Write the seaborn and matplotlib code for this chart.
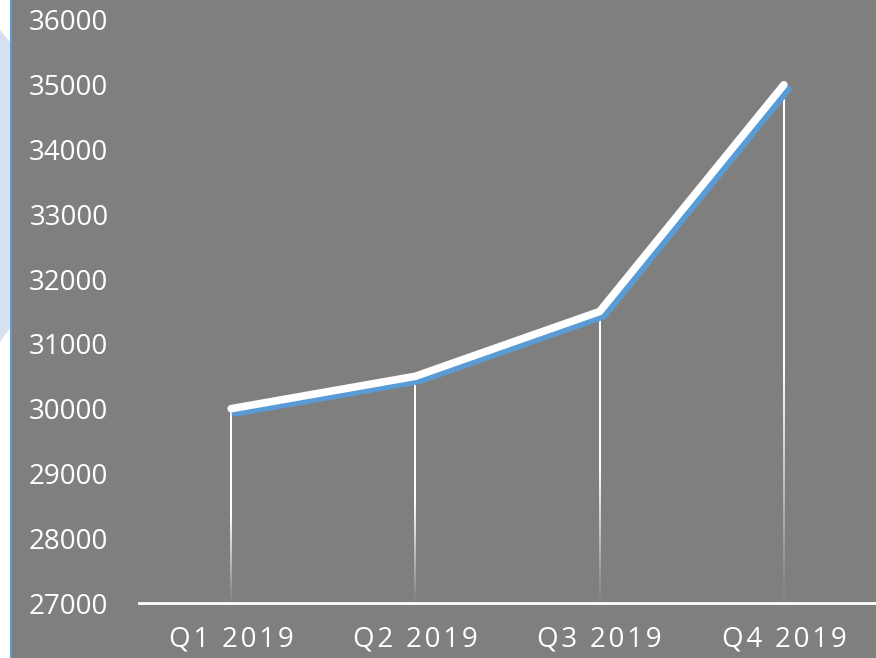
import numpy as np
import pandas as pd
import matplotlib
matplotlib.use("Agg")
import matplotlib.pyplot as plt
import matplotlib.patheffects as pe
from matplotlib.patches import Polygon, Rectangle
import seaborn as sns

# datos
trimestres = ["Q1 2019", "Q2 2019", "Q3 2019", "Q4 2019"]
valores = [30000, 30500, 31500, 35000]
ticks_y = list(range(27000, 36001, 1000))

gris = "#7f7f7f"
azul = "#5b9bd5"

sns.set_theme(style="white")
plt.rcParams["font.family"] = ["Open Sans", "DejaVu Sans"]

fig = plt.figure(figsize=(8.76, 6.58), dpi=100, facecolor="white")
W, H = 876, 658

# fondo gris y franja izquierda
fig.patches.append(Rectangle((12 / W, 0), 1 - 12 / W, 1, transform=fig.transFigure,
                             facecolor=gris, edgecolor="none", zorder=-10))
fig.patches.append(Polygon([(0, 1 - 30 / H), (10 / W, 1 - 42 / H), (10 / W, 1 - 328 / H), (0, 1 - 342 / H)],
                           closed=True, transform=fig.transFigure, facecolor="#d6e0f0",
                           edgecolor="none", zorder=-10))
fig.patches.append(Rectangle((10 / W, 0), 2 / W, 1, transform=fig.transFigure,
                             facecolor=azul, edgecolor="none", zorder=-10))

ax = fig.add_axes([139 / W, (H - 603) / H, (W - 139) / W, (603 - 20) / H])
ax.set_facecolor("none")

df = pd.DataFrame({"trimestre": trimestres, "valor": valores})

# lineas verticales con degradado (imagen estrecha)
px = 4 / (W - 139)  # un pixel en unidades de datos
for i, v in enumerate(valores):
    n = 200
    t = np.linspace(1, 0, n)  # arriba -> abajo
    alpha = np.clip(t * 2.2, 0.05, 1.0)
    img = np.ones((n, 1, 4))
    img[:, 0, 3] = alpha
    ax.imshow(img, extent=[i - px, i + px, ticks_y[0], v], aspect="auto",
              interpolation="bilinear", zorder=2, origin="upper")

sns.lineplot(data=df, x="trimestre", y="valor", ax=ax, color="white", linewidth=5.5,
             sort=False, zorder=3, solid_capstyle="round", solid_joinstyle="round",
             path_effects=[pe.SimpleLineShadow(offset=(3, -3), shadow_color=azul, alpha=1.0),
                           pe.Normal()])

ax.set_xlim(-0.5, 3.5)
ax.set_ylim(ticks_y[0], ticks_y[-1])
ax.set_yticks(ticks_y)
ax.set_yticklabels([str(t) for t in ticks_y])
# espaciado entre letras
ax.set_xticks(range(len(trimestres)))
ax.set_xticklabels(["\u200a".join(t) for t in trimestres])
ax.set_xlabel("")
ax.set_ylabel("")

for s in ["top", "right", "left"]:
    ax.spines[s].set_visible(False)
ax.spines["bottom"].set_color("white")
ax.spines["bottom"].set_linewidth(2)

ax.tick_params(axis="y", colors="white", labelsize=20, length=0, pad=22)
ax.tick_params(axis="x", colors="white", labelsize=20, length=0, pad=16)
ax.grid(False)

fig.savefig("out.png", dpi=100, facecolor=fig.get_facecolor())
